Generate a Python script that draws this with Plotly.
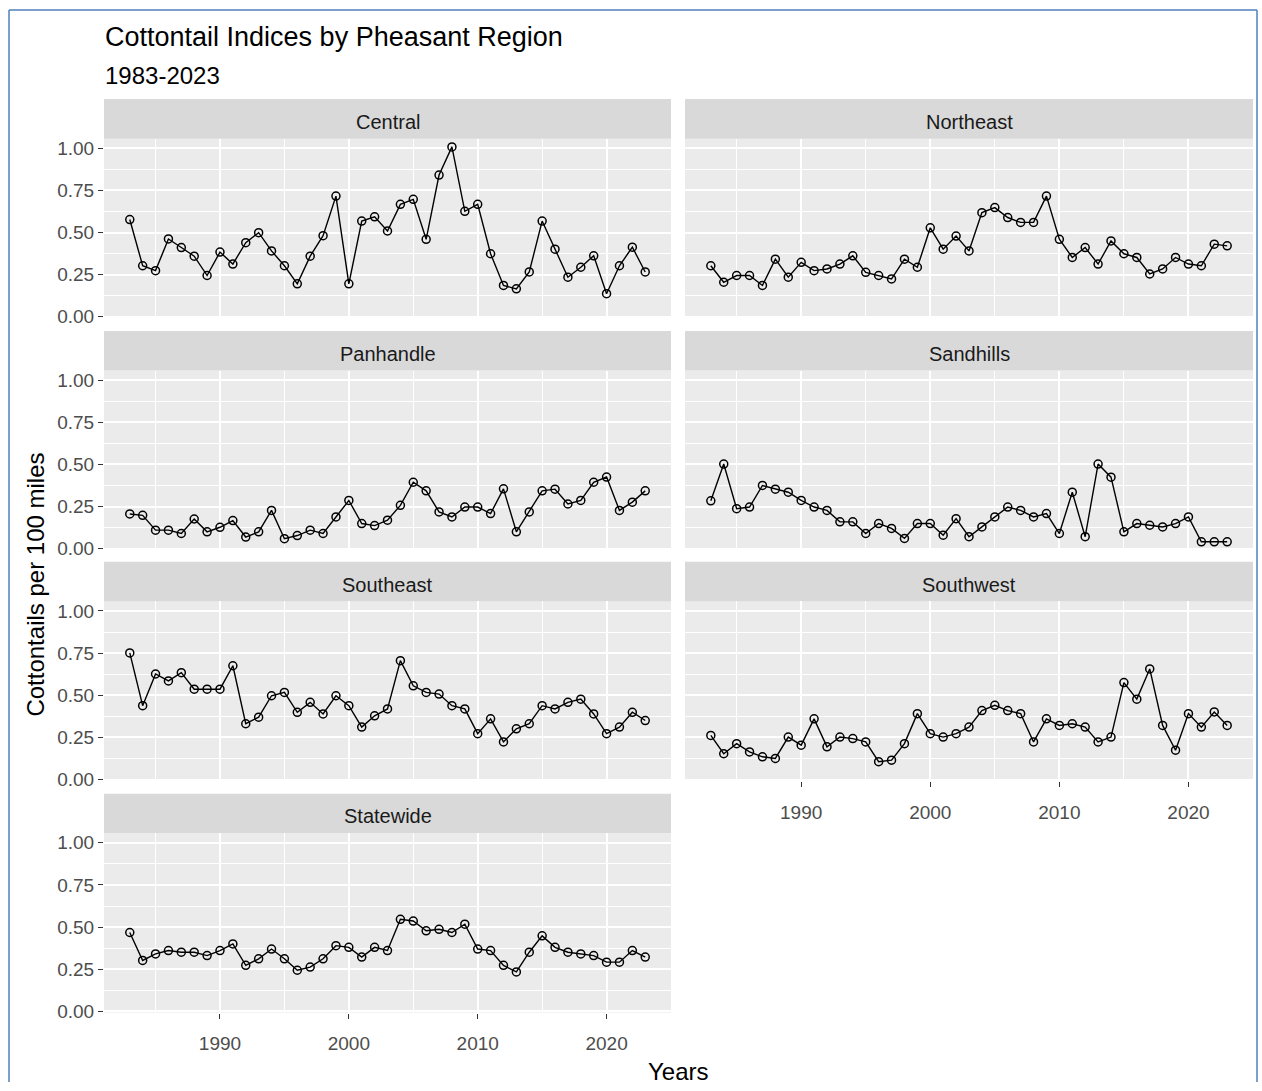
import plotly.graph_objects as go

# Survey years and cottontail indices (cottontails per 100 miles) by region
years = list(range(1983, 2024))

central = [0.577, 0.303, 0.274, 0.462, 0.411, 0.360, 0.245, 0.384, 0.313, 0.440,
           0.499, 0.391, 0.303, 0.196, 0.360, 0.481, 0.716, 0.196, 0.568, 0.593,
           0.509, 0.667, 0.697, 0.460, 0.841, 1.008, 0.626, 0.667, 0.374, 0.186,
           0.166, 0.266, 0.568, 0.401, 0.235, 0.294, 0.362, 0.137, 0.303, 0.413,
           0.266]
northeast = [0.303, 0.205, 0.245, 0.245, 0.186, 0.342, 0.235, 0.323, 0.274, 0.284,
             0.313, 0.362, 0.264, 0.245, 0.225, 0.342, 0.294, 0.528, 0.401, 0.479,
             0.391, 0.618, 0.648, 0.589, 0.560, 0.560, 0.716, 0.460, 0.352, 0.411,
             0.313, 0.450, 0.374, 0.352, 0.254, 0.284, 0.352, 0.313, 0.303, 0.431,
             0.421]
panhandle = [0.206, 0.198, 0.110, 0.110, 0.090, 0.176, 0.100, 0.127, 0.167, 0.069,
             0.100, 0.227, 0.059, 0.078, 0.110, 0.090, 0.188, 0.286, 0.149, 0.137,
             0.169, 0.257, 0.394, 0.343, 0.218, 0.188, 0.247, 0.247, 0.208, 0.355,
             0.100, 0.218, 0.343, 0.353, 0.265, 0.286, 0.394, 0.425, 0.227, 0.276,
             0.343]
sandhills = [0.284, 0.502, 0.237, 0.247, 0.375, 0.353, 0.335, 0.286, 0.247, 0.227,
             0.159, 0.159, 0.090, 0.149, 0.120, 0.061, 0.149, 0.149, 0.080, 0.178,
             0.071, 0.129, 0.188, 0.247, 0.227, 0.188, 0.208, 0.090, 0.335, 0.071,
             0.502, 0.424, 0.100, 0.149, 0.139, 0.129, 0.149, 0.188, 0.041, 0.041,
             0.041]
southeast = [0.751, 0.438, 0.626, 0.585, 0.634, 0.536, 0.536, 0.536, 0.675, 0.331,
             0.370, 0.497, 0.517, 0.399, 0.458, 0.389, 0.497, 0.438, 0.311, 0.378,
             0.419, 0.705, 0.556, 0.517, 0.507, 0.438, 0.419, 0.272, 0.360, 0.223,
             0.301, 0.331, 0.438, 0.419, 0.458, 0.477, 0.389, 0.272, 0.311, 0.399,
             0.350]
southwest = [0.262, 0.153, 0.213, 0.164, 0.135, 0.125, 0.252, 0.204, 0.360, 0.194,
             0.252, 0.243, 0.223, 0.106, 0.115, 0.213, 0.391, 0.272, 0.252, 0.272,
             0.311, 0.409, 0.440, 0.409, 0.391, 0.223, 0.360, 0.321, 0.331, 0.311,
             0.223, 0.252, 0.575, 0.477, 0.656, 0.321, 0.174, 0.391, 0.311, 0.401,
             0.321]
statewide = [0.468, 0.302, 0.341, 0.361, 0.351, 0.351, 0.331, 0.361, 0.400, 0.273,
             0.312, 0.370, 0.312, 0.244, 0.263, 0.312, 0.390, 0.380, 0.322, 0.380,
             0.361, 0.546, 0.536, 0.478, 0.487, 0.468, 0.517, 0.370, 0.361, 0.273,
             0.234, 0.351, 0.448, 0.380, 0.351, 0.341, 0.331, 0.292, 0.292, 0.361,
             0.322]

regions = ["Central", "Northeast", "Panhandle", "Sandhills",
           "Southeast", "Southwest", "Statewide"]
series = [central, northeast, panhandle, sandhills, southeast, southwest, statewide]

y_ticks = [0.0, 0.25, 0.5, 0.75, 1.0]
x_ticks = [1990, 2000, 2010, 2020]

# ---- page geometry (pixels) ----
W, H = 1262, 1091
col_px = [(104, 671), (685, 1253)]
row_px = [(139, 320), (373, 554), (606, 787), (840, 1021)]
STRIP_H = 40

FONT = "Liberation Sans, Arial, Helvetica, sans-serif"
PANEL_BG = "#EBEBEB"
STRIP_BG = "#D9D9D9"


def px_x(p):
    return p / W


def px_y(p):
    return 1 - p / H


# shared (fixed) scales with a 5% expansion
all_vals = [v for s in series for v in s]
lo, hi = min(all_vals), max(all_vals)
y_pad = 0.05 * (hi - lo)
y_range = [lo - y_pad, hi + y_pad]
x_pad = 0.05 * (years[-1] - years[0])
x_range = [years[0] - x_pad, years[-1] + x_pad]

fig = go.Figure()
shapes = []
annotations = []

for i, (name, vals) in enumerate(zip(regions, series)):
    row, col = divmod(i, 2)
    x0, x1 = col_px[col]
    top, bottom = row_px[row]
    ax_id = "" if i == 0 else str(i + 1)

    fig.add_trace(go.Scatter(
        x=years, y=vals, mode="lines+markers",
        line=dict(color="black", width=1.4),
        marker=dict(symbol="circle-open", size=8, color="black",
                    line=dict(width=1.5, color="black")),
        xaxis="x" + ax_id, yaxis="y" + ax_id,
        showlegend=False, hoverinfo="x+y",
    ))

    show_x = name in ("Southwest", "Statewide")
    show_y = col == 0

    fig.layout["xaxis" + ax_id] = dict(
        domain=[px_x(x0), px_x(x1)], anchor="y" + ax_id,
        range=x_range, tickvals=x_ticks,
        showticklabels=show_x, ticks="outside" if show_x else "",
        ticklen=5, tickwidth=1.1, tickcolor="#333333",
        ticklabelstandoff=9,
        tickfont=dict(family=FONT, size=19, color="#4D4D4D"),
        showgrid=True, gridcolor="white", gridwidth=2,
        minor=dict(tickvals=[1985, 1995, 2005, 2015, 2025], showgrid=True,
                   gridcolor="white", gridwidth=1, ticks=""),
        zeroline=False, showline=False, fixedrange=True,
    )
    fig.layout["yaxis" + ax_id] = dict(
        domain=[px_y(bottom), px_y(top)], anchor="x" + ax_id,
        range=y_range, tickvals=y_ticks,
        ticktext=[f"{v:.2f}" for v in y_ticks],
        showticklabels=show_y, ticks="outside" if show_y else "",
        ticklen=5, tickwidth=1.1, tickcolor="#333333",
        tickfont=dict(family=FONT, size=19, color="#4D4D4D"),
        showgrid=True, gridcolor="white", gridwidth=2,
        minor=dict(tickvals=[0.125, 0.375, 0.625, 0.875], showgrid=True,
                   gridcolor="white", gridwidth=1, ticks=""),
        zeroline=False, showline=False, fixedrange=True,
    )

    # facet strip
    shapes.append(dict(
        type="rect", xref="paper", yref="paper",
        x0=px_x(x0), x1=px_x(x1), y0=px_y(top), y1=px_y(top - STRIP_H),
        fillcolor=STRIP_BG, line=dict(width=0), layer="below",
    ))
    annotations.append(dict(
        text=name, xref="paper", yref="paper",
        x=px_x((x0 + x1) / 2), y=px_y(top - STRIP_H / 2 + 3),
        xanchor="center", yanchor="middle", showarrow=False,
        font=dict(family=FONT, size=20, color="#1A1A1A"),
    ))

# titles
annotations += [
    dict(text="Cottontail Indices by Pheasant Region", xref="paper", yref="paper",
         x=px_x(103), y=px_y(36), xanchor="left", yanchor="middle",
         showarrow=False, font=dict(family=FONT, size=27, color="black")),
    dict(text="1983-2023", xref="paper", yref="paper",
         x=px_x(103), y=px_y(75), xanchor="left", yanchor="middle",
         showarrow=False, font=dict(family=FONT, size=24, color="black")),
    dict(text="Years", xref="paper", yref="paper",
         x=px_x(678), y=px_y(1080), xanchor="center", yanchor="middle",
         showarrow=False, font=dict(family=FONT, size=24, color="black")),
    dict(text="Cottontails per 100 miles", xref="paper", yref="paper",
         x=px_x(36), y=px_y(589), xanchor="center", yanchor="middle",
         textangle=-90, showarrow=False,
         font=dict(family=FONT, size=24, color="black")),
]

# outer frame: left, top and right edges
frame = dict(color="#4F81BD", width=1.5)
for fx0, fy0, fx1, fy1 in [(9, 9, 9, H), (9, 9, 1257, 9), (1257, 9, 1257, H)]:
    shapes.append(dict(type="line", xref="paper", yref="paper",
                       x0=px_x(fx0), y0=px_y(fy0), x1=px_x(fx1), y1=px_y(fy1),
                       line=frame))

fig.update_layout(
    width=W, height=H,
    margin=dict(l=0, r=0, t=0, b=0),
    paper_bgcolor="white", plot_bgcolor=PANEL_BG,
    shapes=shapes, annotations=annotations,
    font=dict(family=FONT),
)

fig.write_html("out.html")
